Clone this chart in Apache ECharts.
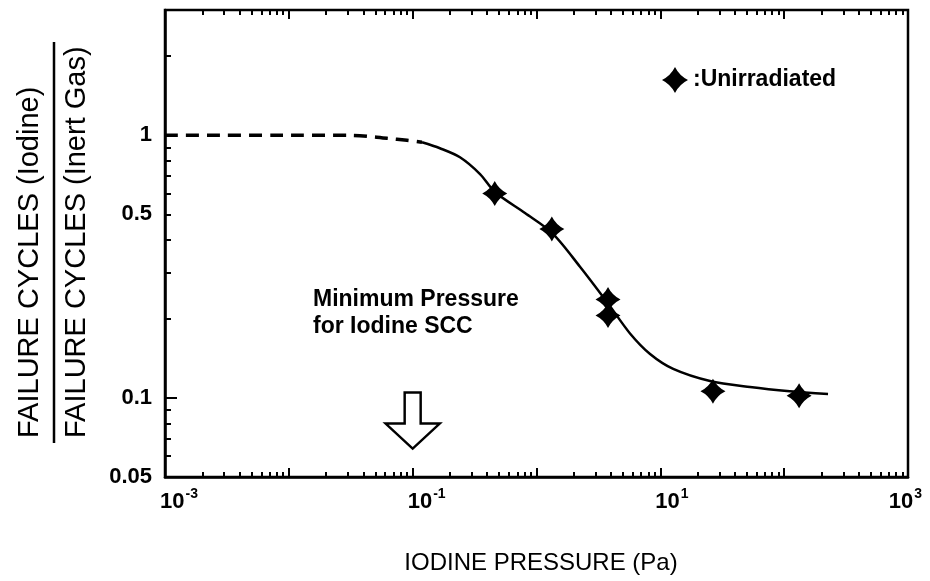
<!DOCTYPE html>
<html>
<head>
<meta charset="utf-8">
<script src="https://cdn.jsdelivr.net/npm/echarts@6/dist/echarts.min.js"></script>
<style>
  html, body { margin: 0; padding: 0; background: #fff; }
  #chart { width: 930px; height: 581px; }
</style>
</head>
<body>
<div id="chart"></div>
<script>
// measured points (iodine pressure in Pa, cycle ratio)
var pressure = [0.46, 1.33, 3.78, 3.78, 26.6, 132];
var ratio = [0.60, 0.44, 0.237, 0.206, 0.106, 0.102];

// fitted curve, dashed part (extrapolated) and solid part
var dashX = [0.001, 0.0123, 0.0312, 0.0621, 0.09, 0.119];
var dashY = [1, 1, 1, 0.974, 0.957, 0.941];
var curveX = [0.119, 0.166, 0.241, 0.35, 0.462, 0.807, 1.334, 2.245, 3.78, 5.69, 8.26, 12.7, 25.2, 53, 111, 226];
var curveY = [0.941, 0.893, 0.825, 0.712, 0.608, 0.506, 0.425, 0.316, 0.229, 0.176, 0.147, 0.129, 0.116, 0.110, 0.106, 0.1035];

// axis ticks
var xDecades = [0.001, 0.01, 0.1, 1, 10, 100, 1000];
var xLabels = [0.001, 0.1, 10, 1000];
var yMajor = [0.1, 1];
var yLabels = [0.05, 0.1, 0.5, 1];

// minimum pressure arrow position
var arrowAt = [0.1, 0.082];

var font = '"Liberation Sans", Arial, sans-serif';
var star = 'path://M12,0 Q16,8 24,12 Q16,16 12,24 Q8,16 0,12 Q8,8 12,0 Z';
var arrow = 'path://M19,0 L35,0 L35,31 L54,31 L27,56 L0,31 L19,31 Z';

// 2..9 between decades
function minorTicks(lo, hi) {
    var out = [];
    for (var e = -4; e <= 3; e++) {
        for (var m = 2; m <= 9; m++) {
            var v = +(m * Math.pow(10, e)).toPrecision(3);
            if (v > lo && v < hi) out.push(v);
        }
    }
    return out;
}

function pairs(xs, ys) {
    return xs.map(function (x, i) { return [x, ys[i]]; });
}

var xMin = 0.001, xMax = 1000, yMin = 0.05, yMax = 3;

function xAxisOf(pos, ticks, len, labels) {
    return {
        type: 'log',
        position: pos,
        min: xMin,
        max: xMax,
        axisLine: { show: labels, lineStyle: { color: '#000', width: 2.5 } },
        axisTick: {
            show: true,
            inside: true,
            length: len,
            customValues: ticks,
            lineStyle: { color: '#000', width: 2 }
        },
        axisLabel: labels ? {
            show: true,
            customValues: xLabels,
            margin: 10,
            align: 'left',
            alignMaxLabel: 'center',
            padding: [0, 0, 0, -5],
            formatter: function (v) {
                var e = Math.round(Math.log10(v));
                return '{b|10}{s|' + (e < 0 ? '-' + (-e) : e) + '}';
            },
            rich: {
                b: { fontSize: 22, fontWeight: 'bold', fontFamily: font, color: '#000', lineHeight: 26, verticalAlign: 'bottom' },
                s: { fontSize: 14, fontWeight: 'bold', fontFamily: font, color: '#000', lineHeight: 16, verticalAlign: 'top', padding: [0, 0, 0, 1] }
            }
        } : { show: false },
        splitLine: { show: false }
    };
}

var dom = echarts.init(document.getElementById('chart'));

var option = {
    animation: false,
    backgroundColor: '#fff',
    grid: {
        left: 165,
        right: 22,
        top: 10,
        bottom: 104,
        outerBoundsMode: 'none',
        show: true,
        borderColor: '#000',
        borderWidth: 2.5
    },
    legend: {
        data: ['Unirradiated'],
        left: 657,
        top: 62,
        icon: star,
        itemWidth: 26,
        itemHeight: 26,
        formatter: ':{name}',
        textStyle: { color: '#000', fontSize: 23, fontWeight: 'bold', fontFamily: font }
    },
    xAxis: [
        xAxisOf('bottom', xDecades, 9, true),
        xAxisOf('bottom', minorTicks(xMin, xMax), 5, false),
        xAxisOf('top', xDecades, 9, false),
        xAxisOf('top', minorTicks(xMin, xMax), 5, false)
    ],
    yAxis: [{
        type: 'log',
        position: 'left',
        min: yMin,
        max: yMax,
        axisLine: { show: true, lineStyle: { color: '#000', width: 2.5 } },
        axisTick: {
            show: true,
            inside: true,
            length: 12,
            customValues: yMajor,
            lineStyle: { color: '#000', width: 2 }
        },
        axisLabel: {
            show: true,
            customValues: yLabels,
            margin: 13,
            color: '#000',
            fontSize: 22,
            fontWeight: 'bold',
            fontFamily: font,
            formatter: function (v) { return String(v); }
        },
        splitLine: { show: false }
    }, {
        type: 'log',
        position: 'left',
        min: yMin,
        max: yMax,
        axisLine: { show: false },
        axisTick: {
            show: true,
            inside: true,
            length: 6,
            customValues: minorTicks(yMin, yMax),
            lineStyle: { color: '#000', width: 2 }
        },
        axisLabel: { show: false },
        splitLine: { show: false }
    }],
    graphic: [
        // y axis title as a fraction
        {
            type: 'text',
            x: 30,
            y: 438,
            rotation: Math.PI / 2,
            style: {
                text: 'FAILURE CYCLES (Iodine)',
                align: 'left',
                verticalAlign: 'middle',
                fill: '#000',
                font: '29px ' + font
            }
        },
        {
            type: 'line',
            shape: { x1: 54, y1: 443, x2: 54, y2: 42 },
            style: { stroke: '#000', lineWidth: 2.5 }
        },
        {
            type: 'text',
            x: 77,
            y: 438,
            rotation: Math.PI / 2,
            style: {
                text: 'FAILURE CYCLES (Inert Gas)',
                align: 'left',
                verticalAlign: 'middle',
                fill: '#000',
                font: '29px ' + font
            }
        },
        // x axis title
        {
            type: 'text',
            x: 541,
            y: 563,
            style: {
                text: 'IODINE PRESSURE (Pa)',
                align: 'center',
                verticalAlign: 'middle',
                fill: '#000',
                font: '24px ' + font
            }
        },
        // note above the arrow
        {
            type: 'text',
            x: 313,
            y: 286,
            style: {
                text: 'Minimum Pressure\nfor Iodine SCC',
                align: 'left',
                verticalAlign: 'top',
                lineHeight: 27,
                fill: '#000',
                font: 'bold 23px ' + font
            }
        }
    ],
    series: [{
        name: 'fit-dashed',
        type: 'line',
        data: pairs(dashX, dashY),
        smooth: 0.3,
        symbol: 'none',
        lineStyle: { color: '#000', width: 3.5, type: [13, 8] },
        z: 2
    }, {
        name: 'fit',
        type: 'line',
        data: pairs(curveX, curveY),
        smooth: 0.3,
        symbol: 'none',
        lineStyle: { color: '#000', width: 2.5 },
        markPoint: {
            silent: true,
            animation: false,
            data: [{
                coord: arrowAt,
                symbol: arrow,
                symbolSize: [54, 56],
                itemStyle: { color: '#fff', borderColor: '#000', borderWidth: 2.5 },
                label: { show: false }
            }]
        },
        z: 2
    }, {
        name: 'Unirradiated',
        type: 'scatter',
        data: pairs(pressure, ratio),
        symbol: star,
        symbolSize: 25,
        itemStyle: { color: '#000', opacity: 1 },
        z: 5
    }]
};

dom.setOption(option);
</script>
</body>
</html>
